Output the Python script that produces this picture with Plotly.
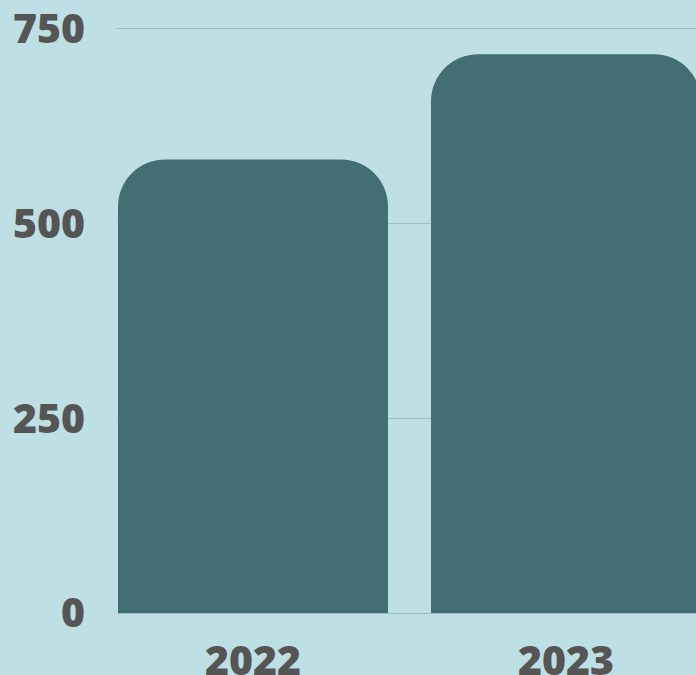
import plotly.graph_objects as go

categories = ["2022", "2023"]
values = [582, 717]
y_ticks = [0, 250, 500, 750]
y_tick_labels = ["0", "250", "500", "750"]

BG = "#BEE0E4"
BAR = "#436F73"
TXT = "#555555"
GRID = "#9DBFC3"

fig = go.Figure(
    go.Bar(
        x=categories,
        y=values,
        marker=dict(color=BAR, cornerradius=47, line=dict(width=0)),
        width=0.8626,
        hoverinfo="skip",
    )
)

fig.update_layout(
    width=696,
    height=675,
    margin=dict(l=117, r=0, t=27, b=62, pad=0, autoexpand=False),
    paper_bgcolor=BG,
    plot_bgcolor=BG,
    showlegend=False,
    font=dict(family="Open Sans", size=41, color=TXT, weight=800),
    xaxis=dict(
        type="category",
        range=[-0.4345, 1.4153],
        showgrid=False,
        zeroline=False,
        showline=False,
        ticks="",
        automargin=False,
        ticklabelstandoff=20,
        ticklabeloverflow="allow",
        tickfont=dict(family="Open Sans", size=41, color=TXT, weight=800),
    ),
    yaxis=dict(
        range=[0, 752],
        tickvals=y_ticks,
        ticktext=y_tick_labels,
        showgrid=True,
        gridcolor=GRID,
        gridwidth=1,
        zeroline=True,
        zerolinecolor=GRID,
        zerolinewidth=1,
        showline=False,
        ticks="",
        automargin=False,
        ticklabelstandoff=31,
        ticklabeloverflow="allow",
        tickfont=dict(family="Open Sans", size=41, color=TXT, weight=800),
    ),
)

fig.write_html(
    "out.html",
    config={"displayModeBar": False},
    post_script="document.body.style.margin='0';document.body.style.padding='0';",
)
